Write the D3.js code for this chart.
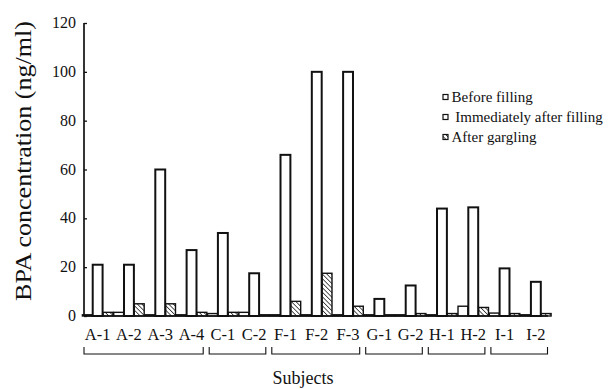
<!DOCTYPE html>
<html>
<head>
<meta charset="utf-8">
<script src="https://cdn.jsdelivr.net/npm/d3@7"></script>
<style>
  body { margin: 0; background: #fff; }
  text { font-family: "Liberation Serif", "DejaVu Serif", serif; fill: #111; }
</style>
</head>
<body>
<div id="chart"></div>
<script>
// subjects and readings (ng/ml)
const subjects = ['A-1', 'A-2', 'A-3', 'A-4', 'C-1', 'C-2', 'F-1', 'F-2', 'F-3', 'G-1', 'G-2', 'H-1', 'H-2', 'I-1', 'I-2'];
const beforeFilling = [21, 21, 60, 27, 34, 17.5, 66, 100, 100, 7, 12.5, 44, 44.5, 19.5, 14];
const immediatelyAfter = [0.5, 1.5, 0.5, 0.5, 1, 1.5, 0.5, 0.5, 0.5, 0.5, 0.5, 0.5, 4, 1.2, 0.5];
const afterGargling = [1.5, 5, 5, 1.5, 1.5, 0.5, 6, 17.5, 4, 0.5, 1, 1, 3.5, 1, 1];
const groupFirst = ['A-1', 'C-1', 'F-1', 'G-1', 'H-1', 'I-1'];
const groupLast = ['A-4', 'C-2', 'F-3', 'G-2', 'H-2', 'I-2'];
const yTicks = [0, 20, 40, 60, 80, 100, 120];
const legendLabels = ['Before filling', ' Immediately after filling', 'After gargling'];

const width = 610, height = 389;
const svg = d3.select('#chart').append('svg')
  .attr('width', width)
  .attr('height', height);

// hatch for the after-gargling bars
const defs = svg.append('defs');
defs.append('pattern')
  .attr('id', 'hatch')
  .attr('patternUnits', 'userSpaceOnUse')
  .attr('width', 3.2).attr('height', 3.2)
  .attr('patternTransform', 'rotate(-45)')
  .append('line')
  .attr('x1', 0).attr('y1', 0).attr('x2', 0).attr('y2', 3.2)
  .attr('stroke', '#111').attr('stroke-width', 1.4);

const axisX = 84;
const x = d3.scaleBand().domain(subjects).range([82, 551.5]).paddingInner(0).paddingOuter(0);
const y = d3.scaleLinear().domain([0, 120]).range([316, 23]);

// order within each subject, left to right
const slots = ['imm', 'before', 'after'];
const xs = d3.scaleBand().domain(slots).range([0, x.bandwidth()]).padding(0.04);

const rows = subjects.map((s, i) => ({
  subject: s,
  bars: [
    { key: 'imm', value: immediatelyAfter[i], fill: '#fff' },
    { key: 'before', value: beforeFilling[i], fill: '#fff' },
    { key: 'after', value: afterGargling[i], fill: 'url(#hatch)' }
  ]
}));

const g = svg.append('g').selectAll('g')
  .data(rows)
  .enter()
  .append('g')
  .attr('transform', d => `translate(${x(d.subject)},0)`);

g.selectAll('rect')
  .data(d => d.bars)
  .enter()
  .append('rect')
  .attr('x', d => xs(d.key))
  .attr('width', xs.bandwidth())
  .attr('y', d => y(d.value))
  .attr('height', d => y(0) - y(d.value))
  .attr('fill', d => d.fill)
  .attr('stroke', '#111')
  .attr('stroke-width', d => d.key === 'before' ? 2 : 1.4);

// y axis, ticks pointing inward
const yAxis = svg.append('g')
  .attr('transform', `translate(${axisX},0)`)
  .call(d3.axisRight(y).tickValues(yTicks).tickSize(3).tickFormat(''));
yAxis.select('.domain').attr('d', `M0,${y(0)}V${y(120)}`).attr('stroke', '#111').attr('stroke-width', 1.7);
yAxis.selectAll('.tick line').attr('stroke', '#111').attr('stroke-width', 1.3);

svg.append('g').selectAll('text')
  .data(yTicks)
  .enter()
  .append('text')
  .attr('x', axisX - 8)
  .attr('y', d => y(d) + 5)
  .attr('text-anchor', 'end')
  .style('font-size', '16px')
  .text(d => d);

// baseline
svg.append('line')
  .attr('x1', axisX).attr('x2', 548)
  .attr('y1', y(0)).attr('y2', y(0))
  .attr('stroke', '#111').attr('stroke-width', 1.7);

// subject labels under the middle bar
svg.append('g').selectAll('text')
  .data(subjects)
  .enter()
  .append('text')
  .attr('x', d => x(d) + xs('before') + xs.bandwidth() / 2)
  .attr('y', 340)
  .attr('text-anchor', 'middle')
  .style('font-size', '16.5px')
  .text(d => d);

// brackets for subject groups
const brackets = groupFirst.map((f, i) => [x(f) + 2, x(groupLast[i]) + x.bandwidth() - 4]);
svg.append('g').selectAll('path')
  .data(brackets)
  .enter()
  .append('path')
  .attr('d', d => `M${d[0]},347V354H${d[1]}V347`)
  .attr('fill', 'none')
  .attr('stroke', '#111')
  .attr('stroke-width', 1.1);

svg.append('text')
  .attr('x', 303)
  .attr('y', 384)
  .attr('text-anchor', 'middle')
  .style('font-size', '18px')
  .text('Subjects');

svg.append('text')
  .attr('transform', `translate(31,${(20 + 302) / 2}) rotate(-90)`)
  .attr('text-anchor', 'middle')
  .attr('textLength', 280)
  .attr('lengthAdjust', 'spacingAndGlyphs')
  .style('font-size', '23px')
  .text('BPA concentration (ng/ml)');

// legend
const legend = svg.append('g').selectAll('g')
  .data(legendLabels)
  .enter()
  .append('g')
  .attr('transform', (d, i) => `translate(443,${97 + i * 20})`);

legend.append('rect')
  .attr('x', 0).attr('y', -2.5)
  .attr('width', 5).attr('height', 5)
  .attr('fill', (d, i) => i === 2 ? 'url(#hatch)' : '#fff')
  .attr('stroke', '#111').attr('stroke-width', 1.2);

legend.append('text')
  .attr('x', 8.5)
  .attr('y', 5)
  .style('font-size', '15px')
  .style('white-space', 'pre')
  .text(d => d);
</script>
</body>
</html>
